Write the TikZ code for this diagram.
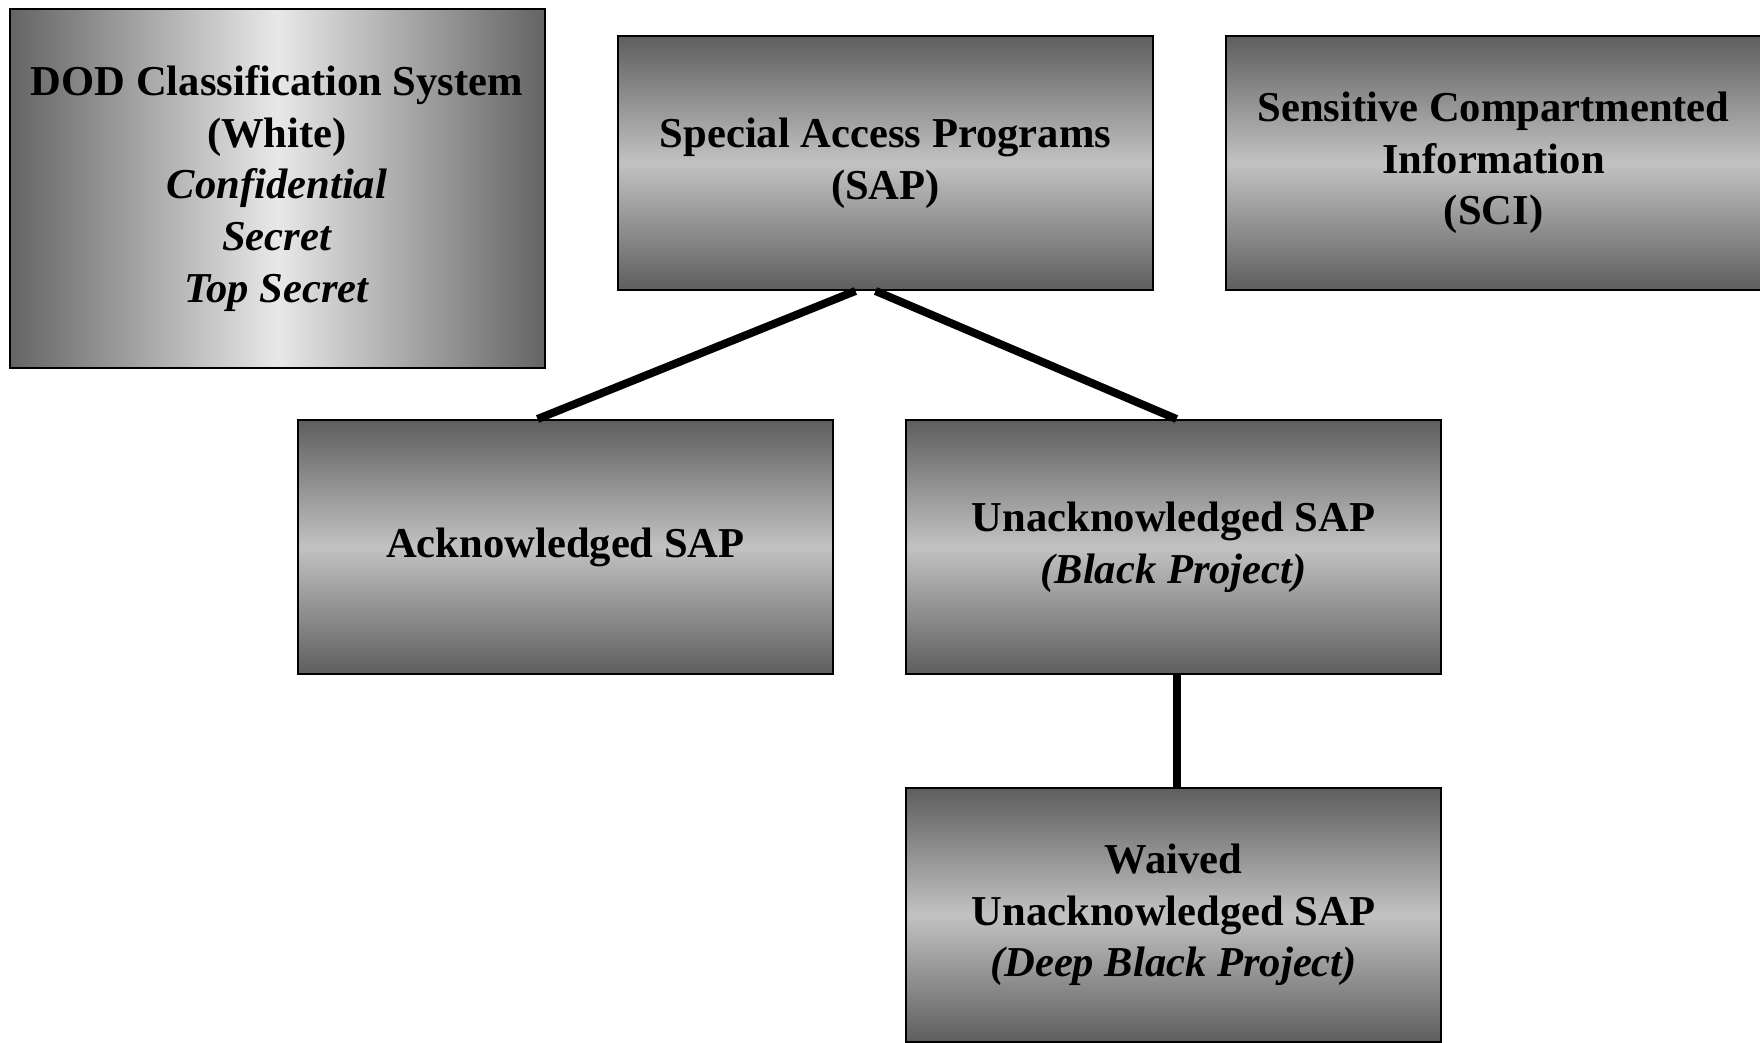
\documentclass[tikz,border=0pt]{standalone}
\usepackage{fontspec}
\setmainfont{Liberation Serif}
\usetikzlibrary{calc}

\definecolor{sapdark}{RGB}{94,94,94}
\definecolor{saplight}{RGB}{194,194,194}
\definecolor{doddark}{RGB}{100,100,100}
\definecolor{dodlight}{RGB}{232,232,232}

\tikzset{
	basebox/.style={draw=black, line width=1pt, minimum width=267.5pt, minimum height=127pt,
		align=center, inner sep=0pt, font=\fontsize{21.3}{25.8}\selectfont\bfseries},
	sapbox/.style={basebox, top color=sapdark, bottom color=sapdark, middle color=saplight},
	dodbox/.style={basebox, minimum height=179pt, left color=doddark, right color=doddark, middle color=dodlight},
	link/.style={line width=4pt}
}

\begin{document}
\begin{tikzpicture}[x=0.5pt, y=-0.5pt]
		\useasboundingbox (0,0) rectangle (1760,1043);
		
		%%% Riquadri
		\node [dodbox] (dod) at (277,188.5) {DOD Classification System\\(White)\\\textit{Confidential}\\\textit{Secret}\\\textit{Top Secret}};
		\node [sapbox] (sap) at (885.5,163) {Special Access Programs\\(SAP)};
		\node [sapbox] (sci) at (1493.5,163) {Sensitive Compartmented\\Information\\(SCI)};
		\node [sapbox] (ack) at (565.5,547) {Acknowledged SAP};
		\node [sapbox] (unack) at (1173.5,547) {Unacknowledged SAP\\\textit{(Black Project)}};
		\node [sapbox] (waived) at (1173.5,915) {Waived\\Unacknowledged SAP\\\textit{(Deep Black Project)}};
		
		%%% Collegamenti
		\draw [link] ([xshift=-15pt]sap.south) -- ([xshift=-14pt]ack.north);
		\draw [link] ([xshift=-5pt]sap.south) -- ([xshift=1.5pt]unack.north);
		\draw [link] ([xshift=1.75pt]unack.south) -- ([xshift=1.75pt]waived.north);
	\end{tikzpicture}
\end{document}
